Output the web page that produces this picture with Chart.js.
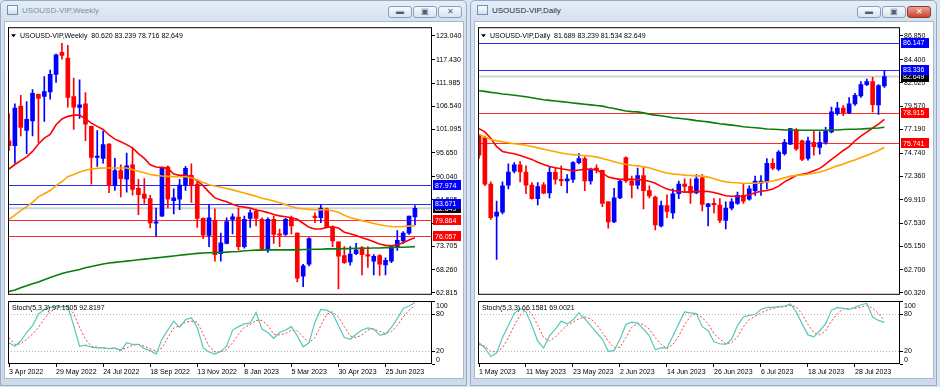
<!DOCTYPE html>
<html>
<head>
<meta charset="utf-8">
<script src="https://cdn.jsdelivr.net/npm/chart.js@4.4.0/dist/chart.umd.min.js"></script>
<style>
  body { margin: 0; width: 940px; height: 387px; background: #dbe5f0; position: relative; overflow: hidden; font-family: "Liberation Sans", Arial, sans-serif; }
  .win { position: absolute; top: 0; width: 467px; height: 386px; box-sizing: border-box; border: 1px solid #97abc4; border-radius: 5px 5px 0 0; background: linear-gradient(180deg, #e6eef8 0, #d4e1f0 20px, #cddbeb 100%); }
  .client { position: absolute; top: 21px; width: 460px; height: 358px; box-sizing: border-box; background: #fff; border: 1px solid #a9b9cd; }
  .title { position: absolute; top: 6px; font-size: 8px; white-space: pre; }
  .icon { position: absolute; top: 5px; width: 11px; height: 10px; box-sizing: border-box; border: 1px solid #6e8fb6; background: linear-gradient(#fdfeff, #cfe0f3); }
  .btn { position: absolute; top: 6px; width: 24px; height: 12px; box-sizing: border-box; border: 1px solid #8c9fb8; border-radius: 3px; background: linear-gradient(#f7f9fc, #d9e3ef); font-size: 8px; line-height: 10px; text-align: center; color: #4d5d71; }
  .btn.red { background: linear-gradient(#eaa293, #c9452f); border-color: #8e3a30; color: #fff; }
  canvas { position: absolute; }
</style>
</head>
<body>
<div class="win" style="left:0"></div>
<div class="client" style="left:4px"></div>
<div class="icon" style="left:7px"></div>
<div class="title" style="left:22px;color:#7d8ea3">USOUSD-VIP,Weekly</div>
<div class="btn" style="left:388px">&#9644;</div>
<div class="btn" style="left:413px">&#9635;</div>
<div class="btn" style="left:438px">&#10005;</div>

<div class="win" style="left:470px"></div>
<div class="client" style="left:474px"></div>
<div class="icon" style="left:477px"></div>
<div class="title" style="left:492px;color:#1d2f45">USOUSD-VIP,Daily</div>
<div class="btn" style="left:857px">&#9644;</div>
<div class="btn" style="left:882px">&#9635;</div>
<div class="btn red" style="left:907px">&#10005;</div>

<canvas id="weeklyMain" width="456" height="278" style="left:8px;top:22px"></canvas>
<canvas id="weeklyStoch" width="456" height="78" style="left:8px;top:301px"></canvas>
<canvas id="dailyMain" width="456" height="278" style="left:478px;top:22px"></canvas>
<canvas id="dailyStoch" width="456" height="78" style="left:478px;top:301px"></canvas>

<script>
const FONT = '"Liberation Sans", Arial, sans-serif';

// ---- Weekly (3 Apr 2022 .. 30 Jul 2023) ----
const weeklyOpen = [98.46, 97.33, 106.58, 100.86, 103.12, 109.36, 108.83, 109.88, 114.02, 119.21,
  117.85, 108.83, 106.28, 107.10, 101.84, 94.55, 94.32, 97.70, 87.93, 91.46,
  89.43, 92.82, 87.33, 85.98, 84.92, 79.13, 80.79, 92.29, 84.40, 84.77,
  88.08, 90.34, 88.31, 80.26, 76.28, 79.81, 71.99, 74.40, 80.04, 80.56,
  73.65, 80.26, 81.92, 80.04, 72.89, 80.04, 76.65, 76.50, 80.41, 76.80,
  66.73, 69.51, 80.79, 80.41, 82.52, 78.16, 74.77, 71.54, 70.04, 71.99,
  73.42, 71.77, 70.26, 71.54, 69.36, 70.26, 73.65, 75.00, 76.80, 80.62];
const weeklyHigh = [104.85, 107.10, 109.13, 107.63, 110.48, 109.40, 113.49, 115.00, 118.75, 121.30,
  120.85, 113.12, 112.74, 109.73, 101.90, 100.86, 100.71, 97.80, 94.32, 92.82,
  95.60, 96.80, 89.43, 89.58, 85.68, 82.67, 92.30, 92.59, 87.18, 89.43,
  92.44, 93.04, 89.43, 80.40, 83.42, 82.52, 76.80, 80.41, 81.32, 82.67,
  80.79, 82.29, 82.44, 80.41, 80.41, 80.79, 77.78, 80.26, 80.79, 76.90,
  69.51, 75.75, 81.54, 83.42, 82.67, 78.53, 74.80, 73.65, 73.65, 74.40,
  73.65, 73.65, 71.77, 71.77, 71.01, 73.80, 77.40, 77.18, 80.80, 83.239];
const weeklyLow = [96.20, 93.19, 99.58, 95.45, 99.58, 98.08, 102.97, 108.23, 112.14, 117.60,
  106.35, 101.09, 103.72, 98.46, 88.31, 92.44, 93.19, 86.28, 86.80, 85.30,
  86.43, 85.68, 81.16, 83.80, 78.01, 76.05, 80.70, 82.67, 81.32, 82.29,
  86.80, 84.02, 78.16, 75.53, 73.65, 70.26, 70.26, 74.30, 76.65, 72.90,
  73.27, 78.16, 78.53, 72.74, 72.29, 74.40, 73.65, 76.28, 76.65, 65.38,
  64.25, 69.14, 79.28, 79.28, 78.10, 73.65, 63.72, 69.74, 69.29, 71.77,
  67.03, 68.76, 67.03, 66.88, 67.03, 69.89, 72.74, 74.40, 76.50, 78.716];
const weeklyClose = [97.33, 106.12, 101.61, 103.49, 109.58, 108.38, 109.96, 114.02, 118.60, 118.46,
  108.61, 106.35, 106.88, 102.37, 94.55, 94.85, 97.55, 87.93, 91.46, 89.58,
  92.59, 87.03, 85.83, 84.92, 79.21, 79.44, 92.22, 84.77, 85.07, 88.08,
  91.99, 88.08, 80.26, 76.35, 80.41, 71.77, 74.55, 79.51, 80.64, 73.65,
  80.04, 81.54, 80.26, 73.04, 80.04, 76.50, 76.35, 80.04, 78.53, 66.28,
  69.14, 75.53, 80.41, 82.67, 78.16, 75.00, 71.39, 69.89, 71.92, 72.89,
  71.77, 71.39, 71.39, 69.51, 70.41, 73.65, 75.15, 76.80, 80.79, 82.649];
const weeklyMaRed = [91.84, 92.89, 93.79, 94.70, 95.97, 97.70, 99.06, 99.96, 102.21, 103.57,
  104.17, 104.47, 104.47, 103.57, 102.59, 101.84, 101.09, 99.81, 98.83, 98.23,
  97.55, 96.80, 95.45, 94.32, 92.82, 92.29, 92.22, 91.99, 90.64, 90.34,
  90.34, 89.96, 89.06, 87.93, 86.43, 85.07, 84.55, 84.17, 83.57, 83.10,
  82.90, 82.67, 82.22, 81.99, 81.62, 81.16, 80.86, 80.64, 80.41, 80.04,
  79.13, 78.16, 77.78, 77.78, 78.16, 78.31, 78.01, 77.03, 76.65, 76.28,
  75.75, 75.30, 74.77, 74.25, 73.95, 73.87, 74.10, 74.55, 75.22, 75.75];
const weeklyMaOrange = [80.04, 81.01, 82.07, 83.04, 84.02, 85.30, 86.05, 86.80, 87.93, 88.91,
  90.04, 90.56, 91.16, 91.54, 91.84, 91.99, 92.07, 92.07, 92.07, 92.07,
  92.07, 91.69, 91.31, 90.94, 90.56, 90.34, 90.19, 90.11, 90.04, 90.04,
  90.04, 89.81, 89.28, 88.68, 88.16, 87.86, 87.56, 87.26, 86.95, 86.58,
  86.20, 85.83, 85.45, 85.00, 84.70, 84.32, 83.95, 83.49, 83.04, 82.67,
  82.52, 82.37, 82.29, 82.29, 82.29, 82.07, 81.69, 81.01, 80.41, 80.11,
  79.74, 79.44, 79.06, 78.76, 78.53, 78.38, 78.31, 78.38, 78.46, 78.53];
const weeklyMaGreen = [63.12, 63.50, 64.02, 64.48, 64.93, 65.38, 65.90, 66.43, 66.88, 67.33,
  67.71, 68.01, 68.31, 68.68, 68.98, 69.29, 69.59, 69.81, 69.96, 70.11,
  70.26, 70.41, 70.56, 70.71, 70.86, 71.01, 71.16, 71.31, 71.47, 71.62,
  71.77, 71.92, 72.07, 72.14, 72.22, 72.29, 72.29, 72.37, 72.44, 72.52,
  72.67, 72.74, 72.82, 72.82, 72.89, 72.89, 72.89, 72.89, 72.89, 72.89,
  72.97, 72.97, 73.04, 73.04, 73.12, 73.12, 73.12, 73.19, 73.19, 73.27,
  73.27, 73.27, 73.34, 73.34, 73.42, 73.42, 73.50, 73.50, 73.57, 73.65];
const weeklyStochK = [33.7, 28.2, 36.4, 50.0, 61.0, 79.0, 86.6, 89.9, 91.0, 91.0,
  91.0, 61.0, 28.2, 29.9, 26.6, 25.5, 25.5, 24.4, 25.5, 21.2,
  33.7, 31.0, 31.0, 24.4, 21.2, 15.7, 39.2, 53.9, 68.1, 58.2,
  70.2, 73.5, 58.2, 25.5, 19.0, 15.7, 20.1, 28.2, 53.9, 59.3,
  63.7, 64.8, 81.7, 55.5, 50.0, 40.8, 50.0, 53.9, 59.3, 44.6,
  27.2, 33.7, 66.4, 86.6, 85.5, 80.1, 61.0, 41.9, 39.2, 47.3,
  53.9, 57.2, 55.5, 45.7, 47.3, 58.2, 71.9, 88.3, 92.1, 97.15];
const weeklyStochD = [41.9, 31.0, 32.1, 39.2, 47.3, 58.2, 71.9, 82.8, 88.3, 91.0,
  91.0, 80.1, 58.2, 39.2, 28.2, 26.6, 25.5, 24.4, 24.4, 22.8,
  25.5, 29.9, 31.0, 28.2, 24.4, 20.1, 25.5, 41.9, 57.2, 61.0,
  66.4, 68.1, 66.4, 47.3, 28.2, 19.0, 19.0, 22.8, 33.7, 47.3,
  58.2, 62.6, 69.2, 69.2, 61.0, 47.3, 46.2, 48.4, 53.9, 52.8,
  43.0, 33.7, 41.9, 61.0, 79.0, 82.8, 74.6, 59.3, 44.6, 41.9,
  46.2, 53.9, 55.5, 51.7, 48.4, 51.7, 61.0, 74.6, 85.5, 92.82];
const weeklyTickIdx = [0, 8, 16, 24, 32, 40, 48, 56, 64];
const weeklyTickLabels = ['3 Apr 2022', '29 May 2022', '24 Jul 2022', '18 Sep 2022', '13 Nov 2022',
  '8 Jan 2023', '5 Mar 2023', '30 Apr 2023', '25 Jun 2023'];
const weeklyPriceTicks = [123.040, 117.430, 111.985, 106.540, 101.095, 95.650, 90.040, 84.595, 79.150, 73.705, 68.260, 62.815];
const weeklyBlueLevels = [87.974, 83.671];
const weeklyRedLevels = [79.864, 76.057];

// ---- Daily (1 May 2023 .. 4 Aug 2023) ----
const dailyOpen = [76.61, 76.35, 71.54, 68.23, 68.66, 71.44, 72.87, 73.53, 72.80, 71.44,
  70.05, 71.48, 70.65, 72.77, 72.04, 71.87, 72.04, 73.76, 74.19, 71.87,
  73.20, 72.97, 69.72, 67.64, 70.12, 74.29, 71.87, 71.44, 72.44, 70.88,
  70.22, 67.24, 69.32, 68.56, 70.55, 71.54, 71.31, 70.65, 72.20, 69.22,
  69.56, 69.39, 67.80, 69.06, 69.56, 70.38, 69.99, 70.88, 71.64, 71.78,
  73.70, 73.10, 74.69, 75.68, 77.16, 76.02, 74.19, 75.85, 75.34, 75.85,
  76.94, 78.83, 79.40, 78.93, 79.83, 80.65, 81.81, 82.14, 79.73, 81.689];
const dailyHigh = [76.68, 76.51, 71.78, 69.79, 71.78, 73.63, 73.76, 73.86, 73.43, 71.71,
  71.71, 71.71, 73.37, 73.20, 73.43, 72.54, 73.86, 74.69, 74.36, 73.20,
  73.53, 73.00, 69.75, 71.11, 72.04, 74.36, 72.37, 73.20, 73.37, 71.38,
  70.32, 69.79, 70.45, 71.05, 71.87, 72.10, 72.10, 72.54, 72.54, 69.56,
  70.05, 70.05, 69.72, 70.05, 70.72, 71.64, 71.38, 72.37, 72.44, 74.19,
  74.19, 75.02, 76.18, 77.30, 77.27, 76.08, 76.41, 77.01, 76.94, 77.41,
  79.50, 79.99, 79.66, 80.49, 80.92, 82.14, 82.38, 82.58, 81.81, 83.239];
const dailyLow = [74.20, 71.38, 67.90, 63.76, 68.46, 71.05, 72.70, 71.78, 70.55, 69.99,
  69.39, 70.55, 70.12, 71.54, 71.38, 70.65, 71.71, 73.63, 70.88, 71.54,
  72.70, 69.22, 67.00, 67.57, 70.05, 71.71, 70.12, 71.05, 68.99, 70.12,
  66.81, 67.14, 68.07, 68.00, 70.05, 70.72, 69.56, 70.55, 68.79, 67.24,
  68.56, 67.57, 66.91, 68.89, 69.46, 69.56, 69.89, 70.38, 70.38, 71.05,
  73.04, 72.97, 74.53, 75.62, 75.02, 73.96, 74.03, 74.53, 74.63, 75.68,
  76.84, 78.67, 78.60, 78.83, 79.66, 80.49, 81.71, 79.00, 78.73, 81.534];
const dailyClose = [74.53, 71.54, 68.07, 68.66, 71.38, 72.80, 73.53, 72.80, 71.44, 70.05,
  71.28, 70.62, 72.77, 72.04, 71.87, 72.10, 73.76, 74.19, 71.87, 72.97,
  72.97, 69.56, 67.64, 70.12, 71.87, 71.87, 71.44, 72.44, 70.88, 70.32,
  67.34, 69.32, 68.73, 70.55, 71.54, 71.31, 70.65, 72.10, 69.46, 69.52,
  69.39, 67.80, 69.06, 69.72, 70.38, 69.79, 71.05, 71.87, 71.87, 73.70,
  73.20, 74.86, 75.85, 77.27, 75.19, 74.10, 76.02, 75.42, 75.85, 77.01,
  79.00, 79.40, 78.93, 79.83, 80.72, 81.81, 82.14, 79.76, 81.71, 82.649];
const dailyMaRed = [77.27, 76.94, 76.28, 75.42, 74.92, 74.79, 74.69, 74.49, 74.29, 74.10,
  73.80, 73.57, 73.37, 73.23, 73.13, 73.03, 72.93, 73.00, 73.07, 73.10,
  73.03, 72.70, 72.27, 72.14, 72.04, 72.04, 72.04, 72.01, 71.97, 71.84,
  71.64, 71.31, 71.05, 70.88, 70.78, 70.72, 70.75, 70.78, 70.81, 70.78,
  70.68, 70.52, 70.35, 70.29, 70.29, 70.32, 70.45, 70.65, 70.81, 70.88,
  71.05, 71.34, 71.78, 72.10, 72.44, 72.57, 72.70, 72.93, 73.17, 73.60,
  74.10, 74.53, 75.02, 75.42, 76.02, 76.51, 76.91, 77.34, 77.74, 78.24];
const dailyMaOrange = [76.68, 76.41, 76.15, 76.02, 75.92, 75.82, 75.72, 75.65, 75.55, 75.42,
  75.29, 75.15, 75.02, 74.89, 74.76, 74.66, 74.59, 74.53, 74.49, 74.43,
  74.36, 74.19, 74.03, 73.86, 73.70, 73.60, 73.50, 73.43, 73.33, 73.23,
  73.04, 72.84, 72.70, 72.60, 72.54, 72.47, 72.44, 72.40, 72.37, 72.27,
  72.10, 71.91, 71.78, 71.71, 71.68, 71.61, 71.64, 71.64, 71.71, 71.78,
  71.87, 72.01, 72.20, 72.37, 72.44, 72.50, 72.57, 72.67, 72.80, 72.97,
  73.20, 73.43, 73.63, 73.86, 74.03, 74.29, 74.49, 74.76, 75.02, 75.35];
const dailyMaGreen = [81.18, 81.12, 81.02, 80.95, 80.85, 80.79, 80.72, 80.65, 80.56, 80.46,
  80.36, 80.26, 80.19, 80.12, 80.06, 79.99, 79.92, 79.86, 79.79, 79.73,
  79.66, 79.60, 79.46, 79.36, 79.23, 79.10, 79.03, 79.00, 78.90, 78.77,
  78.67, 78.60, 78.50, 78.40, 78.34, 78.27, 78.20, 78.10, 78.04, 77.97,
  77.87, 77.77, 77.71, 77.64, 77.57, 77.47, 77.41, 77.37, 77.31, 77.24,
  77.21, 77.18, 77.14, 77.14, 77.11, 77.11, 77.11, 77.11, 77.11, 77.11,
  77.14, 77.14, 77.18, 77.21, 77.21, 77.24, 77.27, 77.31, 77.34, 77.41];
const dailyStochK = [33.7, 25.5, 11.9, 17.3, 41.9, 61.0, 80.1, 88.3, 82.8, 61.0,
  36.4, 25.5, 44.6, 55.5, 68.1, 63.7, 70.2, 81.2, 71.9, 61.0,
  50.0, 39.2, 20.1, 21.2, 39.2, 62.6, 66.4, 64.8, 55.5, 44.6,
  22.8, 25.5, 25.5, 44.6, 63.7, 82.8, 81.2, 80.1, 59.3, 52.8,
  35.3, 32.1, 31.0, 39.2, 61.0, 74.6, 77.3, 79.0, 86.6, 89.9,
  89.9, 91.0, 92.1, 95.3, 82.8, 63.7, 46.2, 43.0, 52.8, 63.7,
  85.5, 89.9, 88.3, 86.6, 89.9, 93.7, 96.4, 74.6, 69.2, 66.16];
const dailyStochD = [31.0, 28.2, 20.1, 19.0, 25.5, 41.9, 61.0, 77.3, 86.6, 80.1,
  61.0, 41.9, 36.4, 43.0, 52.8, 61.0, 66.4, 71.9, 74.6, 71.9,
  62.6, 50.0, 36.4, 25.5, 26.6, 41.9, 58.2, 64.8, 62.6, 55.5,
  41.9, 31.0, 24.4, 31.0, 44.6, 62.6, 75.7, 80.1, 73.5, 63.7,
  48.4, 39.2, 32.1, 33.7, 43.0, 59.3, 70.2, 75.7, 81.2, 85.5,
  88.3, 89.9, 91.0, 93.2, 91.0, 79.0, 62.6, 50.0, 46.2, 52.8,
  68.1, 80.1, 87.7, 88.3, 88.3, 89.9, 93.2, 88.3, 80.1, 69.0];
const dailyTickIdx = [0, 8, 16, 24, 32, 40, 48, 56, 64];
const dailyTickLabels = ['1 May 2023', '11 May 2023', '23 May 2023', '2 Jun 2023', '14 Jun 2023',
  '26 Jun 2023', '6 Jul 2023', '18 Jul 2023', '28 Jul 2023'];
const dailyPriceTicks = [86.850, 84.400, 82.020, 79.570, 77.190, 74.740, 72.360, 69.910, 67.530, 65.150, 62.700, 60.320];
const dailyBlueLevels = [86.147, 83.336];
const dailyRedLevels = [78.915, 75.741];

const lastPrice = 82.649;
const stochTicks = [100, 80, 20, 0];

function pts(arr) {
  return arr.map((v, i) => ({ x: i, y: v }));
}

function maLine(arr, color) {
  return { type: 'line', data: pts(arr), borderColor: color, borderWidth: 1.6, pointRadius: 0, order: 0 };
}

function makeMain(id, o, h, l, c, maR, maO, maG, priceTicks, yMin, yMax, xMax, axisW, blue, red, header) {
  const col = c.map((v, i) => v >= o[i] ? '#0000ff' : '#ff0000');
  const levels = {
    id: 'levels',
    beforeDatasetsDraw(chart) {
      const { ctx, chartArea: a, scales: { y } } = chart;
      ctx.save();
      ctx.lineWidth = 2;
      ctx.strokeStyle = '#d2d2d2';
      let py = y.getPixelForValue(lastPrice);
      ctx.beginPath(); ctx.moveTo(a.left, py); ctx.lineTo(a.right, py); ctx.stroke();
      ctx.lineWidth = 1;
      blue.forEach(v => {
        const ly = Math.round(y.getPixelForValue(v)) + 0.5;
        ctx.strokeStyle = '#2a2aff';
        ctx.beginPath(); ctx.moveTo(a.left, ly); ctx.lineTo(a.right, ly); ctx.stroke();
      });
      red.forEach(v => {
        const ly = Math.round(y.getPixelForValue(v)) + 0.5;
        ctx.strokeStyle = '#ff2a2a';
        ctx.beginPath(); ctx.moveTo(a.left, ly); ctx.lineTo(a.right, ly); ctx.stroke();
      });
      ctx.restore();
    },
    afterDraw(chart) {
      const { ctx, chartArea: a, scales: { y } } = chart;
      ctx.save();
      ctx.strokeStyle = '#000';
      ctx.lineWidth = 1;
      ctx.strokeRect(a.left + 0.5, a.top + 0.5, a.right - a.left - 1, a.bottom - a.top - 1);
      ctx.font = '7px ' + FONT;
      ctx.textBaseline = 'middle';
      const tag = (v, bg) => {
        const ty = y.getPixelForValue(v);
        ctx.fillStyle = bg;
        ctx.fillRect(a.right + 1, Math.round(ty) - 5, 28, 10);
        ctx.fillStyle = '#fff';
        ctx.fillText(v.toFixed(3), a.right + 3, ty + 0.5);
      };
      tag(lastPrice, '#000');
      blue.forEach(v => tag(v, '#0000ff'));
      red.forEach(v => tag(v, '#ff0000'));
      // header
      ctx.fillStyle = '#000';
      ctx.beginPath();
      ctx.moveTo(a.left + 3, a.top + 7); ctx.lineTo(a.left + 8, a.top + 7); ctx.lineTo(a.left + 5.5, a.top + 10);
      ctx.fill();
      ctx.fillText(header, a.left + 12, a.top + 9);
      ctx.restore();
    }
  };
  return new Chart(document.getElementById(id), {
    type: 'bar',
    data: {
      datasets: [
        maLine(maG, '#0a7d0a'),
        maLine(maO, '#ffa500'),
        maLine(maR, '#ff0000'),
        { data: o.map((v, i) => ({ x: i, y: [o[i], c[i]] })), backgroundColor: col, barThickness: 4, minBarLength: 1, grouped: false, order: 1 },
        { data: o.map((v, i) => ({ x: i, y: [l[i], h[i]] })), backgroundColor: col, barThickness: 1, grouped: false, order: 2 }
      ]
    },
    options: {
      responsive: false,
      animation: false,
      events: [],
      layout: { padding: 0 },
      plugins: { legend: { display: false }, tooltip: { enabled: false } },
      scales: {
        x: { type: 'linear', min: -0.17, max: xMax, offset: false, display: false },
        y: {
          position: 'right', min: yMin, max: yMax,
          afterBuildTicks: s => { s.ticks = priceTicks.map(v => ({ value: v })); },
          afterFit: s => { s.width = axisW; },
          ticks: { autoSkip: false, color: '#000', padding: 1, font: { size: 7, family: FONT }, callback: v => v.toFixed(3) },
          grid: { drawOnChartArea: false, tickLength: 3, color: '#000' },
          border: { display: false }
        }
      }
    },
    plugins: [levels]
  });
}

function makeStoch(id, k, d, xMax, axisW, tickIdx, tickLabels, header) {
  const deco = {
    id: 'deco',
    beforeDatasetsDraw(chart) {
      const { ctx, chartArea: a, scales: { y } } = chart;
      ctx.save();
      ctx.strokeStyle = '#b4b4b4';
      ctx.setLineDash([1, 2]);
      [80, 20].forEach(v => {
        const ly = Math.round(y.getPixelForValue(v)) + 0.5;
        ctx.beginPath(); ctx.moveTo(a.left, ly); ctx.lineTo(a.right, ly); ctx.stroke();
      });
      ctx.restore();
    },
    afterDraw(chart) {
      const { ctx, chartArea: a, scales: { y } } = chart;
      ctx.save();
      ctx.strokeStyle = '#000';
      ctx.strokeRect(a.left + 0.5, a.top + 0.5, a.right - a.left - 1, a.bottom - a.top - 1);
      ctx.font = '7px ' + FONT;
      ctx.fillStyle = '#000';
      ctx.textBaseline = 'middle';
      stochTicks.forEach(v => {
        let ty = y.getPixelForValue(v);
        ctx.beginPath(); ctx.moveTo(a.right, Math.round(ty) + 0.5); ctx.lineTo(a.right + 3, Math.round(ty) + 0.5); ctx.stroke();
        if (v === 100) ty += 5;
        if (v === 0) ty -= 4;
        ctx.fillText(String(v), a.right + 4, ty);
      });
      ctx.fillText(header, a.left + 4, a.top + 7);
      ctx.restore();
    }
  };
  return new Chart(document.getElementById(id), {
    type: 'line',
    data: {
      datasets: [
        { data: pts(k), borderColor: '#55c8bf', borderWidth: 1.2, pointRadius: 0 },
        { data: pts(d), borderColor: '#ff3b3b', borderWidth: 1, borderDash: [2, 2], pointRadius: 0 }
      ]
    },
    options: {
      responsive: false,
      animation: false,
      events: [],
      layout: { padding: 0 },
      plugins: { legend: { display: false }, tooltip: { enabled: false } },
      scales: {
        x: {
          type: 'linear', min: -0.17, max: xMax, offset: false,
          afterBuildTicks: s => { s.ticks = tickIdx.map(v => ({ value: v })); },
          afterFit: s => { s.height = 15; },
          ticks: { autoSkip: false, maxRotation: 0, align: 'start', color: '#000', padding: 1, font: { size: 7, family: FONT }, callback: (v, i) => tickLabels[i] },
          grid: { drawOnChartArea: false, tickLength: 3, color: '#000' },
          border: { display: false }
        },
        y: {
          position: 'right', min: 0, max: 100,
          afterFit: s => { s.width = axisW; },
          ticks: { display: false },
          grid: { display: false },
          border: { display: false }
        }
      }
    },
    plugins: [deco]
  });
}

makeMain('weeklyMain', weeklyOpen, weeklyHigh, weeklyLow, weeklyClose, weeklyMaRed, weeklyMaOrange, weeklyMaGreen,
  weeklyPriceTicks, 62.36, 125.07, 71.9, 32, weeklyBlueLevels, weeklyRedLevels,
  'USOUSD-VIP,Weekly  80.620 83.239 78.716 82.649');
makeStoch('weeklyStoch', weeklyStochK, weeklyStochD, 71.9, 32, weeklyTickIdx, weeklyTickLabels,
  'Stoch(5,3,3) 97.1505 92.8197');
makeMain('dailyMain', dailyOpen, dailyHigh, dailyLow, dailyClose, dailyMaRed, dailyMaOrange, dailyMaGreen,
  dailyPriceTicks, 60.12, 87.745, 71.66, 34, dailyBlueLevels, dailyRedLevels,
  'USOUSD-VIP,Daily  81.689 83.239 81.534 82.649');
makeStoch('dailyStoch', dailyStochK, dailyStochD, 71.66, 34, dailyTickIdx, dailyTickLabels,
  'Stoch(5,3,3) 66.1581 69.0021');
</script>
</body>
</html>
